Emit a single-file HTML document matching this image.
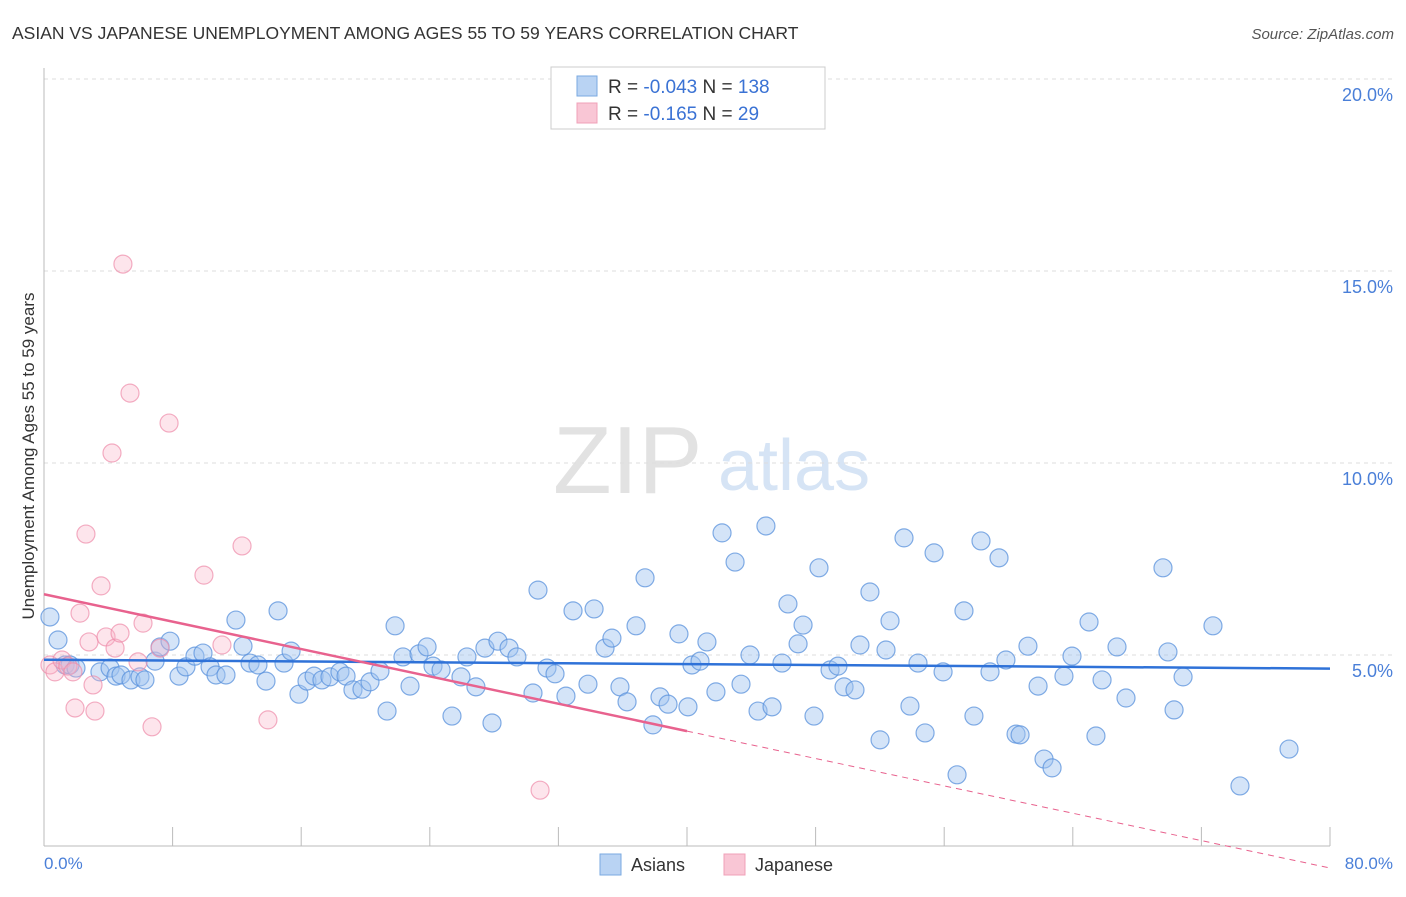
<!DOCTYPE html>
<html><head><meta charset="utf-8"><style>
body{margin:0;background:#fff;font-family:"Liberation Sans",sans-serif}
svg text{font-family:"Liberation Sans",sans-serif}
</style></head><body>
<svg id="chart" width="1406" height="892" xmlns="http://www.w3.org/2000/svg">
<text x="12" y="39" font-size="17.5" fill="#333">ASIAN VS JAPANESE UNEMPLOYMENT AMONG AGES 55 TO 59 YEARS CORRELATION CHART</text>
<text x="1394" y="39" font-size="15" fill="#555" font-style="italic" text-anchor="end">Source: ZipAtlas.com</text>
<g>
<text x="553" y="493" font-size="96" fill="#e2e2e2" font-family="Liberation Serif">ZIP</text>
<text x="718" y="490" font-size="72" fill="#d6e4f5">atlas</text>
</g>
<g id="grid"></g>
<g id="axes"></g>
<g id="blue"></g>
<g id="pink"></g>
<g id="lines"></g>
<text transform="translate(34,456) rotate(-90)" font-size="17" fill="#333" text-anchor="middle">Unemployment Among Ages 55 to 59 years</text>
<text x="44" y="869" font-size="17" fill="#4a7fd8">0.0%</text>
<text x="1393" y="869" font-size="17" fill="#4a7fd8" text-anchor="end">80.0%</text>
<g>
<rect x="551" y="67" width="274" height="62" fill="#fff" stroke="#ccc"/>
<rect x="577" y="76" width="20" height="20" fill="#b9d3f3" stroke="#7aaae0"/>
<rect x="577" y="103" width="20" height="20" fill="#f9c6d5" stroke="#f0a0b8"/>
<text x="608" y="93" font-size="19" fill="#333">R = <tspan fill="#3a72d4">-0.043</tspan>   N = <tspan fill="#3a72d4">138</tspan></text>
<text x="608" y="120" font-size="19" fill="#333">R =  <tspan fill="#3a72d4">-0.165</tspan>   N =   <tspan fill="#3a72d4">29</tspan></text>
</g>
<g>
<rect x="600" y="854" width="21" height="21" fill="#b9d3f3" stroke="#7aaae0"/>
<text x="631" y="871" font-size="18" fill="#333">Asians</text>
<rect x="724" y="854" width="21" height="21" fill="#f9c6d5" stroke="#f0a0b8"/>
<text x="755" y="871" font-size="18" fill="#333">Japanese</text>
</g>
</svg>
<script>
const yTicks=[5,10,15,20];
const yTickLabels=["5.0%","10.0%","15.0%","20.0%"];
const xTicks=[0,8,16,24,32,40,48,56,64,72,80];
const asiansX=[0.37,0.87,1.31,1.62,1.99,3.48,4.11,4.48,4.79,5.41,5.97,6.28,6.91,7.22,7.84,8.40,8.83,9.39,9.89,10.33,10.70,11.32,11.94,12.38,12.82,13.31,13.81,14.56,14.93,15.37,15.86,16.36,16.80,17.29,17.79,18.41,18.79,19.22,19.78,20.28,20.90,21.34,21.84,22.33,22.77,23.33,23.83,24.20,24.70,25.38,25.94,26.31,26.87,27.43,27.87,28.24,28.93,29.42,30.42,30.73,31.29,31.79,32.47,32.91,33.84,34.22,34.90,35.33,35.83,36.27,36.83,37.39,37.88,38.32,38.82,39.50,40.06,40.31,40.81,41.24,41.80,42.18,42.99,43.36,43.92,44.42,44.91,45.29,45.91,46.28,46.91,47.22,47.90,48.21,48.90,49.39,49.77,50.45,50.76,51.38,52.01,52.38,52.63,53.50,53.87,54.37,54.81,55.37,55.93,56.80,57.23,57.85,58.29,58.85,59.41,59.84,60.47,60.72,61.21,61.84,62.21,62.71,63.45,63.95,65.01,65.44,65.82,66.75,67.31,69.61,69.92,70.30,70.86,72.72,74.40,77.45];
const asiansY=[5.99,5.39,4.74,4.74,4.66,4.56,4.66,4.45,4.48,4.35,4.43,4.35,4.84,5.21,5.36,4.45,4.69,4.97,5.05,4.69,4.48,4.48,5.91,5.23,4.79,4.74,4.32,6.15,4.79,5.10,3.98,4.32,4.45,4.35,4.43,4.56,4.45,4.09,4.11,4.30,4.58,3.54,5.76,4.95,4.19,5.03,5.21,4.71,4.61,3.41,4.43,4.95,4.17,5.18,3.23,5.36,5.18,4.95,4.01,6.69,4.66,4.51,3.93,6.15,4.24,6.20,5.18,5.44,4.17,3.78,5.76,7.01,3.18,3.91,3.72,5.55,3.65,4.74,4.84,5.34,4.04,8.18,7.42,4.24,5.00,3.54,8.36,3.65,4.79,6.33,5.29,5.78,3.41,7.27,4.61,4.71,4.17,4.09,5.26,6.64,2.79,5.13,5.89,8.05,3.67,4.79,2.97,7.66,4.56,1.88,6.15,3.41,7.97,4.56,7.53,4.87,2.94,2.92,5.23,4.19,2.29,2.06,4.45,4.97,5.86,2.89,4.35,5.21,3.88,7.27,5.08,3.57,4.43,5.76,1.59,2.55];
const japaneseX=[0.37,0.68,1.12,1.49,1.80,2.24,2.61,2.80,3.17,3.55,3.86,4.42,4.73,4.91,5.35,5.85,6.16,6.72,7.22,7.78,9.95,11.07,12.32,13.93,30.86,4.23,1.93,3.05];
const japaneseY=[4.74,4.56,4.87,4.71,4.56,6.09,8.15,5.34,3.54,6.80,5.47,5.18,5.57,15.18,11.82,4.82,5.83,3.13,5.18,11.04,7.08,5.26,7.84,3.31,1.48,10.26,3.62,4.22];
const NS="http://www.w3.org/2000/svg";
const X0=44,X1=1330,Y0=847,PXY=38.4;
function sx(v){return X0+(X1-X0)*v/80;}
function sy(v){return Y0-v*PXY;}
function mk(tag,attrs,parent){const e=document.createElementNS(NS,tag);for(const k in attrs)e.setAttribute(k,attrs[k]);parent.appendChild(e);return e;}
const grid=document.getElementById('grid'),axes=document.getElementById('axes');
yTicks.forEach((t,i)=>{
  const l=mk('line',{x1:44,x2:1393,y1:sy(t),y2:sy(t),stroke:'#dddddd','stroke-dasharray':'4,4'},grid);
  
  
  const tx=mk('text',{x:1393,y:sy(t)+22,'font-size':18,fill:'#4a7fd8','text-anchor':'end'},axes);
  tx.textContent=yTickLabels[i];
  
  
});
const ya=mk('line',{x1:44,x2:44,y1:68,y2:846,stroke:'#bbb'},axes);


const xa=mk('line',{x1:44,x2:1330,y1:846,y2:846,stroke:'#bbb'},axes);


xTicks.forEach(t=>{
  const l=mk('line',{x1:sx(t),x2:sx(t),y1:827,y2:846,stroke:'#bbb'},axes);
  
  
});
function pts(xs,ys,g,fill,stroke,name){
  xs.forEach((x,i)=>{
    const c=mk('circle',{cx:sx(x),cy:sy(ys[i]),r:9,fill:fill,stroke:stroke,'stroke-width':1.2},g);
    
    
  });
}
pts(asiansX,asiansY,document.getElementById('blue'),'rgba(160,195,240,0.45)','rgba(90,145,220,0.75)','asians-point');
pts(japaneseX,japaneseY,document.getElementById('pink'),'rgba(248,180,200,0.35)','rgba(238,140,170,0.7)','japanese-point');
function fit(xs,ys){const n=xs.length;let mx=0,my=0;for(let i=0;i<n;i++){mx+=xs[i];my+=ys[i];}mx/=n;my/=n;let sxy=0,sxx=0;for(let i=0;i<n;i++){sxy+=(xs[i]-mx)*(ys[i]-my);sxx+=(xs[i]-mx)**2;}const b=sxx?sxy/sxx:0;return [my-b*mx,b];}
const lg=document.getElementById('lines');
const [ba,bb]=fit(asiansX,asiansY);
const bl=mk('line',{x1:sx(0),y1:sy(ba),x2:sx(80),y2:sy(ba+bb*80),stroke:'#2f72d8','stroke-width':2.5},lg);


const [pa,pb]=fit(japaneseX,japaneseY);
const pl=mk('line',{x1:sx(0),y1:sy(pa),x2:sx(40),y2:sy(pa+pb*40),stroke:'#e8628e','stroke-width':2.5},lg);


const pd=mk('line',{x1:sx(40),y1:sy(pa+pb*40),x2:sx(80),y2:sy(pa+pb*80),stroke:'#e8628e','stroke-width':1,'stroke-dasharray':'6,5'},lg);


</script>
</body></html>
